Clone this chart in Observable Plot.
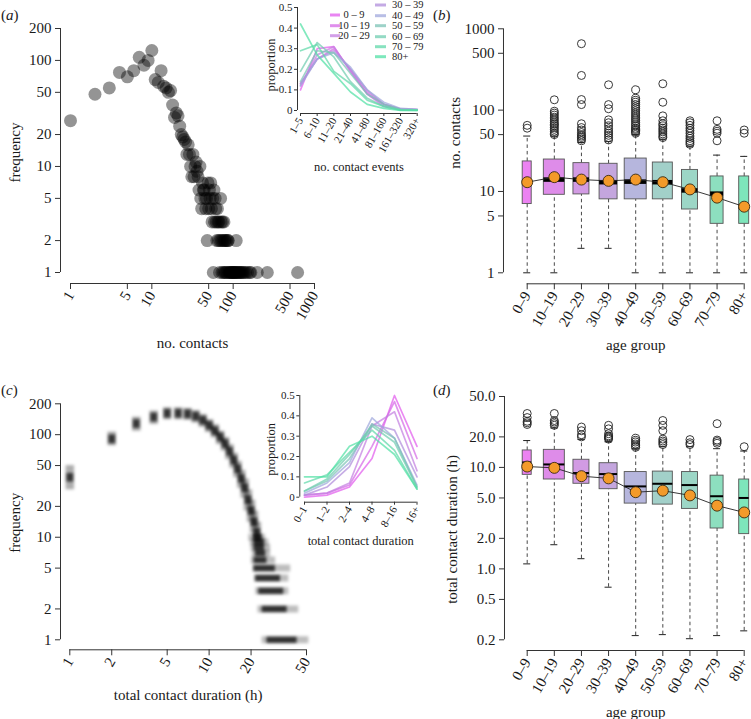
<!DOCTYPE html>
<html><head><meta charset="utf-8">
<script src="https://cdn.jsdelivr.net/npm/d3@7"></script>
<script src="https://cdn.jsdelivr.net/npm/@observablehq/plot@0.6"></script>
<style>
body{margin:0;background:#fff;}
#fig{position:relative;width:751px;height:719px;overflow:hidden;background:#fff;}
#fig svg{position:absolute;overflow:visible;max-width:none;background:transparent;}
</style></head><body><div id="fig"></div>
<script>
// ---------------- DATA ----------------
const ageGroups = ["0–9","10–19","20–29","30–39","40–49","50–59","60–69","70–79","80+"];
const legendLabels = ["0 – 9","10 – 19","20 – 29","30 – 39","40 – 49","50 – 59","60 – 69","70 – 79","80+"];
const boxColors = ["#ec82f2","#de8ce9","#d29be3","#c4a6de","#b6b6dd","#a2d0c9","#9cd6c6","#8ddfbf","#7ee6bb"];
const lineColors = ["#e25ced","#d56ae6","#c47fe0","#b08ddb","#a0a8dc","#7cc3b6","#70cdb0","#60d8a9","#52e0a5"];
const groupN = [81, 441, 256, 324, 484, 400, 256, 169, 100]; // relative group sizes (box widths)

// (a) degree distribution
const contactsA = [1,2,3,4,5,6,7,8,9,10,11,12,13,14,15,16,17,18,19,20,21,22,23,24,25,26,27,28,29,
  30,31,32,33,34,35,36,37,38,39,40,41,42,43,44,45,46,47,48,49,50,51,52,53,54,55,56,57,58,59,60,
  61,62,63,64,65,66,67,68,69,70,71,72,73,74,75,76,77,78,79,80,81,83,84,86,87,88,90,92,94,96,98,
  100,102,104,106,108,109,111,114,117,120,123,127,131,136,142,150,160,165,198,263,620];
const freqA = [27,48,55,77,70,80,107,90,100,124,66,62,80,57,55,50,52,38,29,32,30,24,20,19,18,17,13,16,13,
  10,8,13,8,10,11,9,8,6,10,5,4,7,6,6,5,4,5,2,7,4,6,5,7,4,3,5,1,6,3,5,
  4,3,2,4,3,2,3,1,2,5,3,2,1,3,2,1,3,2,1,2,1,2,1,2,2,1,1,1,1,1,1,
  1,1,1,1,1,2,1,1,1,1,1,1,1,1,1,1,1,1,1,1,1];
const aTicksX = [1,5,10,50,100,500,1000];
const aTicksY = [1,2,5,10,20,50,100,200];

// (a) inset: proportion by number of contact events
const eventCats = ["1–5","6–10","11–20","21–40","41–80","81–160","161–320","320+"];
const ev0_9   = [0.10,0.30,0.31,0.19,0.08,0.02,0.005,0.003];
const ev10_19 = [0.13,0.25,0.30,0.20,0.09,0.03,0.008,0.004];
const ev20_29 = [0.12,0.27,0.31,0.19,0.08,0.03,0.006,0.003];
const ev30_39 = [0.13,0.25,0.29,0.20,0.10,0.03,0.006,0.004];
const ev40_49 = [0.12,0.25,0.28,0.21,0.10,0.04,0.010,0.005];
const ev50_59 = [0.14,0.29,0.28,0.18,0.08,0.03,0.006,0.003];
const ev60_69 = [0.19,0.33,0.26,0.14,0.06,0.02,0.003,0.002];
const ev70_79 = [0.29,0.32,0.19,0.13,0.05,0.02,0.002,0.001];
const ev80    = [0.42,0.27,0.18,0.09,0.03,0.01,0.001,0.001];
const propTicks = [0,0.1,0.2,0.3,0.4,0.5];

// (b) number of contacts by age group
const contactsQ1 = [7, 9.1, 9.2, 8, 8, 8, 6, 4, 4];
const contactsMed = [13, 14, 14, 13, 13.2, 13, 10.3, 9.4, 6.5];
const contactsQ3 = [23.4, 24.7, 22.3, 21.9, 25.4, 22.7, 18.4, 15.3, 15.3];
const contactsLo = [1, 1, 2, 2, 1, 1, 1, 1, 1];
const contactsHi = [48, 48, 40, 41, 50, 44, 36, 28, 27];
const contactsMean = [13, 15, 14, 13.5, 14, 13, 10.6, 8.4, 6.5];
const contactsOut0_9 = [60, 65];
const contactsOut10_19 = [50,52,55,58,61,64,67,70,74,78,82,87,92,97,134];
const contactsOut20_29 = [42,44,46,48,50,53,57,61,68,117,135,267,656];
const contactsOut30_39 = [43,46,49,52,55,59,64,70,76,104,117,205];
const contactsOut40_49 = [52,54,56,58,60,63,66,70,74,78,82,87,92,98,104,110,117,125,132,140,178];
const contactsOut50_59 = [46,48,51,54,57,60,64,68,74,85,125,211];
const contactsOut60_69 = [38,40,42,45,48,52,56,60,65,70,74];
const contactsOut70_79 = [42,52,55,58,74];
const contactsOut80 = [52,57];
const bTicksY = [1,5,10,50,100,500,1000];

// (c) total contact duration distribution
const durHours = [1,2,3,4,5,6,7,8,9,10,11,12,13,14,15,16,17,18,19,20,21,22];
const durFreqMid = [38,90,127,147,160,160,158,150,137,122,108,94,81,68,56,46,37,30,23,18,14,11];
const durFreqLo  = [29,78,108,126,140,140,138,130,118,105,93,80,69,57,47,38,30,24,18,14,11,9];
const durFreqHi  = [50,106,148,170,183,183,180,172,157,140,125,108,94,80,66,55,45,37,29,23,18,14];
const tailFreq     = [10,9,8,7,6,5,4,3,2,1];
const tailFrom     = [19.3,19.8,20,20.4,20.1,20.7,21.2,21.6,22.4,24];
const tailTo       = [25.4,26.8,27.6,27.6,30,38.5,37.3,37.3,44,52];
const tailCoreFrom = [21,21,21,21.5,21,21,21.6,22.7,24,26];
const tailCoreTo   = [24,25,25,25.5,26,29.9,32.5,34.3,36.3,42.8];
const cTicksX = [1,2,5,10,20,50];
const cTicksY = [1,2,5,10,20,50,100,200];

// (c) inset: proportion by total contact duration
const durCats = ["0–1","1–2","2–4","4–8","8–16","16+"];
const du0_9   = [0.00,0.01,0.05,0.19,0.50,0.25];
const du10_19 = [0.01,0.02,0.06,0.25,0.47,0.19];
const du20_29 = [0.01,0.02,0.07,0.35,0.42,0.13];
const du30_39 = [0.01,0.05,0.15,0.36,0.33,0.10];
const du40_49 = [0.02,0.07,0.17,0.39,0.29,0.06];
const du50_59 = [0.03,0.08,0.19,0.36,0.29,0.05];
const du60_69 = [0.03,0.09,0.21,0.35,0.27,0.05];
const du70_79 = [0.07,0.11,0.22,0.33,0.23,0.04];
const du80    = [0.10,0.10,0.25,0.30,0.21,0.04];

// (d) total contact duration by age group
const durQ1 = [8.45, 7.6, 6.9, 6.1, 4.4, 4.3, 3.9, 2.5, 2.2];
const durMed = [11.2, 10.7, 8.8, 8.6, 6.5, 6.9, 6.7, 5.2, 5.0];
const durQ3 = [14.7, 14.9, 11.9, 11.0, 9.0, 9.1, 9.0, 8.3, 7.6];
const durLo = [1.12, 1.73, 1.26, 0.66, 0.22, 0.225, 0.205, 0.22, 0.245];
const durHi = [18.4, 24.5, 18.9, 17.9, 15.3, 16, 16, 15.3, 14.5];
const durMean = [10.2, 9.9, 8.2, 7.8, 5.7, 5.9, 5.3, 4.2, 3.6];
const durOut0_9 = [26.5,27.5,28.5,31,34];
const durOut10_19 = [26,27,28,29,34];
const durOut20_29 = [20,21,23,25];
const durOut30_39 = [19,19.5,20,20.5,21.5,24,26];
const durOut40_49 = [15.8,16.3,17,17.8,18.5,19.4];
const durOut50_59 = [16.8,17.5,18.2,19,23,26,29];
const durOut60_69 = [16.8,17.5,18.8];
const durOut70_79 = [17.3,18,18.6,27];
const durOut80 = [16];
const dTicksY = [0.2,0.5,1,2,5,10,20,50];

// ---------------- DRAWING ----------------
const SERIF = '"Liberation Serif", "Times New Roman", serif';
const AX = "#333";
const TXT = "#1a1a1a";
const FS = 15;
const fig = document.getElementById("fig");
const st = (fs) => ({fontFamily: SERIF, fontSize: fs + "px", color: TXT, background: "transparent", overflow: "visible"});

function mount(svg, left, top) {
  svg.style.position = "absolute";
  svg.style.left = left + "px";
  svg.style.top = top + "px";
  svg.style.background = "transparent";
  fig.appendChild(svg);
  return svg;
}
function panelLabel(svg, letter, x, y) {
  const t = d3.select(svg).append("text").attr("x", x).attr("y", y).attr("text-anchor", "start")
    .attr("font-size", FS).attr("fill", TXT).attr("font-family", SERIF);
  t.append("tspan").text("(");
  t.append("tspan").attr("font-style", "italic").text(letter);
  t.append("tspan").text(")");
}
function addBlur(svg, id, sd) {
  const defs = d3.select(svg).insert("defs", ":first-child");
  defs.append("filter").attr("id", id).attr("x", "-30%").attr("y", "-30%").attr("width", "160%").attr("height", "160%")
    .append("feGaussianBlur").attr("stdDeviation", sd);
  svg.querySelectorAll('g[aria-description="blob"]').forEach(g => g.setAttribute("filter", `url(#${id})`));
}
// titles centred on their anchor
function yTitle(text, dx, dy, fs = FS) {
  return Plot.text([text], {frameAnchor: "left", dx, dy, rotate: -90, textAnchor: "middle", lineAnchor: "middle", fontSize: fs, fill: TXT});
}
function xTitle(text, dy, fs = FS) {
  return Plot.text([text], {frameAnchor: "bottom", dy, textAnchor: "middle", lineAnchor: "middle", fontSize: fs, fill: TXT});
}
// log axes with every tick labelled
function logAxisY(ticks, fmt, dx, fs = FS, size = 5, pad = 4) {
  return [
    Plot.axisY({ticks, tickSize: size, dx, fill: "none", label: null, stroke: AX}),
    Plot.text(ticks, {y: d => d, frameAnchor: "left", dx: dx - size - pad, textAnchor: "end", lineAnchor: "middle", text: fmt, fontSize: fs, fill: TXT})
  ];
}
function logAxisX(ticks, fmt, dy, fs = FS, size = 6, pad = 3) {
  return [
    Plot.axisX({ticks, tickSize: size, dy, fill: "none", label: null, stroke: AX}),
    Plot.text(ticks, {x: d => d, frameAnchor: "bottom", dy: dy + size + pad, rotate: -60, textAnchor: "end", lineAnchor: "middle", text: fmt, fontSize: fs, fill: TXT})
  ];
}

// ---- panel (a)
const aData = contactsA.map((c, i) => ({c, f: freqA[i]}));
const svgA = Plot.plot({
  width: 380, height: 360, marginLeft: 70, marginRight: 66, marginTop: 28, marginBottom: 88,
  style: st(FS),
  x: {type: "log", domain: [1, 1000]},
  y: {type: "log", domain: [1, 200]},
  marks: [
    Plot.ruleX([1], {y1: 1, y2: 200, dx: -10, stroke: AX}),
    ...logAxisY(aTicksY, d => String(d), -10),
    Plot.ruleY([1], {x1: 1, x2: 1000, dy: 11, stroke: AX}),
    ...logAxisX(aTicksX, d => String(d), 11),
    Plot.dot(aData, {x: "c", y: "f", r: 6.5, fill: "#000", fillOpacity: 0.42}),
    yTitle("frequency", -55, 2),
    xTitle("no. contacts", 71)
  ]
});
mount(svgA, 0, 0);
panelLabel(svgA, "a", 1, 20);

// ---- panel (c)
const blobRows = durHours.map((h, i) => ({h, lo: durFreqLo[i], mid: durFreqMid[i], hi: durFreqHi[i]}));
const tailRows = tailFreq.map((f, i) => ({f, a: tailFrom[i], b: tailTo[i], ca: tailCoreFrom[i], cb: tailCoreTo[i]}));
const svgC = Plot.plot({
  width: 380, height: 359, marginLeft: 69.3, marginRight: 74, marginTop: 43.3, marginBottom: 79.7,
  style: st(FS),
  x: {type: "log", domain: [1, 50]},
  y: {type: "log", domain: [1, 200]},
  marks: [
    Plot.ruleX(blobRows, {x: "h", y1: "lo", y2: "hi", stroke: "#000", strokeOpacity: 0.32, strokeWidth: 8.5, ariaDescription: "blob"}),
    Plot.ruleX(blobRows, {x: "h", y1: d => d.mid / 1.1, y2: d => d.mid * 1.1, stroke: "#000", strokeOpacity: 0.7, strokeWidth: 6.5, ariaDescription: "blob"}),
    Plot.ruleY(tailRows, {y: "f", x1: "a", x2: "b", stroke: "#000", strokeOpacity: 0.26, strokeWidth: 7, ariaDescription: "blob"}),
    Plot.ruleY(tailRows, {y: "f", x1: "ca", x2: "cb", stroke: "#000", strokeOpacity: 0.75, strokeWidth: 6, ariaDescription: "blob"}),
    Plot.ruleX([1], {y1: 1, y2: 200, dx: -9.3, stroke: AX}),
    ...logAxisY(cTicksY, d => String(d), -9.3),
    Plot.ruleY([1], {x1: 1, x2: 50, dy: 10, stroke: AX}),
    ...logAxisX(cTicksX, d => String(d), 10),
    yTitle("frequency", -55, 1),
    xTitle("total contact duration (h)", 55.7)
  ]
});
addBlur(svgC, "blurC", 1.7);
mount(svgC, 0, 360);
panelLabel(svgC, "c", 1, 35);

// ---- box panels
function boxPanel(o) {
  const maxN = d3.max(groupN);
  const HALF = 0.4055, CAP = 0.13;
  const rows = ageGroups.map((g, i) => ({i, g, q1: o.q1[i], med: o.med[i], q3: o.q3[i], lo: o.lo[i], hi: o.hi[i],
    mean: o.mean[i], hw: HALF * Math.sqrt(groupN[i] / maxN), col: boxColors[i]}));
  const outRows = o.outliers.flatMap((arr, i) => arr.map(v => ({i, v})));
  return Plot.plot({
    width: 371, height: o.height, marginLeft: 146.7, marginRight: 7.3, marginTop: o.marginTop, marginBottom: o.marginBottom,
    style: st(FS),
    x: {domain: [0, 8]},
    y: {type: "log", domain: o.yDomain},
    color: {type: "identity"},
    marks: [
      Plot.ruleX(rows, {x: "i", y1: "q3", y2: "hi", stroke: "#333", strokeDasharray: "3.5,3", strokeWidth: 0.9}),
      Plot.ruleX(rows, {x: "i", y1: "lo", y2: "q1", stroke: "#333", strokeDasharray: "3.5,3", strokeWidth: 0.9}),
      Plot.ruleY(rows, {y: "hi", x1: d => d.i - CAP, x2: d => d.i + CAP, stroke: "#222"}),
      Plot.ruleY(rows, {y: "lo", x1: d => d.i - CAP, x2: d => d.i + CAP, stroke: "#222"}),
      Plot.rect(rows, {x1: d => d.i - d.hw, x2: d => d.i + d.hw, y1: "q1", y2: "q3", fill: d => d.col, stroke: "#555", strokeWidth: 0.9}),
      Plot.ruleY(rows, {y: "med", x1: d => d.i - d.hw, x2: d => d.i + d.hw, stroke: "#000", strokeWidth: o.medianWidth}),
      Plot.line(rows, {x: "i", y: "mean", stroke: "#222", strokeWidth: 0.9}),
      Plot.dot(outRows, {x: "i", y: "v", r: 4, stroke: "#222", strokeWidth: 0.9, fill: "none"}),
      Plot.dot(rows, {x: "i", y: "mean", r: 5.5, fill: "#f39a2a", stroke: "#3a2a10", strokeWidth: 0.9}),
      Plot.ruleX([0], {y1: o.yDomain[0], y2: o.yDomain[1], dx: o.axisDx, stroke: AX}),
      ...logAxisY(o.yTicks, o.yFmt, o.axisDx),
      Plot.ruleY([o.yDomain[0]], {x1: 0, x2: 8, dy: o.axisDy, stroke: AX}),
      Plot.axisX({ticks: d3.range(9), tickFormat: i => ageGroups[i], tickSize: 6, tickPadding: 3, dy: o.axisDy, tickRotate: -60, label: null, stroke: AX, fill: TXT, fontSize: FS}),
      yTitle(o.yTitle, o.yTitleDx, o.yTitleDy),
      xTitle("age group", o.xTitleDy)
    ]
  });
}

const svgB = boxPanel({
  q1: contactsQ1, med: contactsMed, q3: contactsQ3, lo: contactsLo, hi: contactsHi, mean: contactsMean,
  outliers: [contactsOut0_9, contactsOut10_19, contactsOut20_29, contactsOut30_39, contactsOut40_49,
             contactsOut50_59, contactsOut60_69, contactsOut70_79, contactsOut80],
  height: 360, marginTop: 28.3, marginBottom: 87.7, yDomain: [1, 1000], yTicks: bTicksY, yFmt: d => String(d),
  axisDx: -23.7, axisDy: 11, medianWidth: 4.5, yTitle: "no. contacts", yTitleDx: -71.7, yTitleDy: -18, xTitleDy: 72.7
});
mount(svgB, 380, 0);
panelLabel(svgB, "b", 53, 20);

const svgD = boxPanel({
  q1: durQ1, med: durMed, q3: durQ3, lo: durLo, hi: durHi, mean: durMean,
  outliers: [durOut0_9, durOut10_19, durOut20_29, durOut30_39, durOut40_49, durOut50_59, durOut60_69, durOut70_79, durOut80],
  height: 359, marginTop: 36, marginBottom: 79.7, yDomain: [0.2, 50], yTicks: dTicksY, yFmt: d3.format(".1f"),
  axisDx: -22.7, axisDy: 10.7, medianWidth: 2, yTitle: "total contact duration (h)", yTitleDx: -75, yTitleDy: 11.3, xTitleDy: 72.4
});
mount(svgD, 380, 360);
panelLabel(svgD, "d", 53, 35);

// ---- insets
const propFmt = d => d === 0 ? "0" : d.toFixed(1);
function inset(o) {
  const rows = o.series.flatMap((vals, gi) => vals.map((v, k) => ({k, v, g: ageGroups[gi], col: lineColors[gi]})));
  const n = o.cats.length - 1;
  return Plot.plot({
    width: 180, height: 180, marginLeft: o.ml, marginRight: o.mr, marginTop: o.mt, marginBottom: o.mb,
    style: st(11),
    x: {domain: [0, n]},
    y: {domain: [0, 0.5]},
    color: {type: "identity"},
    marks: [
      Plot.ruleX([0], {y1: 0, y2: 0.5, dx: o.axisDx, stroke: AX}),
      Plot.axisY({ticks: propTicks, tickFormat: propFmt, tickSize: 3, tickPadding: 2, dx: o.axisDx, label: null, stroke: AX, fill: TXT, fontSize: 11}),
      Plot.ruleY([0], {x1: 0, x2: n, dy: o.axisDy, stroke: AX}),
      Plot.axisX({ticks: d3.range(n + 1), tickFormat: k => o.cats[k], tickSize: 3, tickPadding: 2, dy: o.axisDy, tickRotate: -60, label: null, stroke: AX, fill: TXT, fontSize: 11}),
      Plot.line(rows, {x: "k", y: "v", z: "g", stroke: "col", strokeOpacity: 0.72, strokeWidth: 1.7}),
      yTitle("proportion", o.yTitleDx, o.yTitleDy, 12.5),
      xTitle(o.xTitle, o.xTitleDy, 12.5)
    ]
  });
}

const svgAi = inset({
  series: [ev0_9, ev10_19, ev20_29, ev30_39, ev40_49, ev50_59, ev60_69, ev70_79, ev80],
  cats: eventCats, ml: 50, mr: 13.3, mt: 7, mb: 70, axisDx: -3, axisDy: 3,
  yTitleDx: -30, yTitleDy: 6, xTitle: "no. contact events", xTitleDy: 56
});
// legend (two columns)
{
  const g = d3.select(svgAi).append("g").attr("font-family", SERIF).attr("font-size", 10.5).attr("fill", TXT);
  const col1Y = [15, 25.7, 35.7];
  const col2Y = [5, 15.7, 25.7, 36.7, 46.7, 56.7];
  legendLabels.forEach((lab, i) => {
    const first = i < 3;
    const y = first ? col1Y[i] : col2Y[i - 3];
    const lx1 = first ? 80 : 125, lx2 = first ? 90 : 136;
    g.append("line").attr("x1", lx1).attr("x2", lx2).attr("y1", y).attr("y2", y)
      .attr("stroke", lineColors[i]).attr("stroke-opacity", 0.75).attr("stroke-width", 3);
    g.append("text").attr("x", first ? 104 : 142).attr("y", y).attr("dy", "0.32em")
      .attr("text-anchor", first ? "middle" : "start").text(lab);
  });
}
mount(svgAi, 250, 0);

const svgCi = inset({
  series: [du0_9, du10_19, du20_29, du30_39, du40_49, du50_59, du60_69, du70_79, du80],
  cats: durCats, ml: 54, mr: 13.5, mt: 15, mb: 63.3, axisDx: -4.7, axisDy: 5,
  yTitleDx: -34, yTitleDy: 3, xTitle: "total contact duration", xTitleDy: 43.3
});
mount(svgCi, 250, 380);
</script></body></html>
